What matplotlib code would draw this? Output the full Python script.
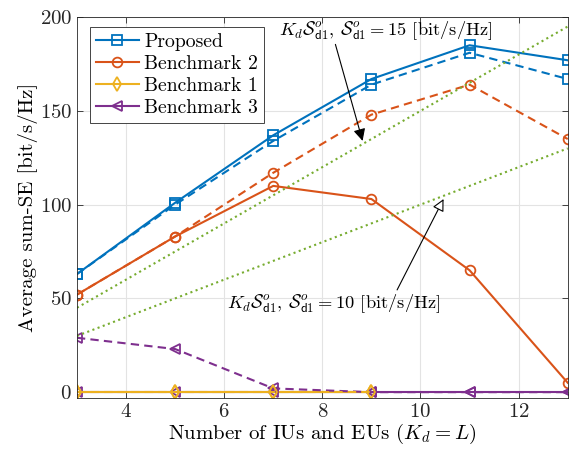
import numpy as np
import matplotlib
matplotlib.use('Agg')
import matplotlib.pyplot as plt

plt.rcParams['font.family'] = 'serif'
plt.rcParams['font.serif'] = ['cmr10']
plt.rcParams['mathtext.fontset'] = 'cm'
plt.rcParams['axes.formatter.use_mathtext'] = True

# Data
k = [3, 5, 7, 9, 11, 13]
prop_solid = [63, 101, 137, 167, 185, 177]
prop_dash = [63, 100, 134, 164, 181, 167]
b2_solid = [52, 83, 110, 103, 65, 5]
b2_dash = [52, 83, 117, 148, 164, 135]
k_b1 = [3, 5, 7, 9]
b1_solid = [0, 0, 0, 0]
b1_dash = [0, 0, 0, 0]
b3_solid = [0, 0, 0, 0, 0, 0]
b3_dash = [29, 23, 2, 0, 0, 0]
k_ref = [3, 13]
ref15 = [45, 195]
ref10 = [30, 130]

c_blue = '#0072BD'
c_orange = '#D95319'
c_yellow = '#EDB120'
c_purple = '#7E2F8E'
c_green = '#77AC30'

fig = plt.figure(figsize=(5.7, 4.51), dpi=100)
ax = fig.add_axes([0.135, 0.118, 0.861, 0.844])

lw = 1.5
dash = (0, (4, 2.5))
mk = dict(markerfacecolor='none', markersize=7, markeredgewidth=1.3)

h_p, = ax.plot(k, prop_solid, '-', color=c_blue, marker='s', lw=lw, **mk)
h_b2, = ax.plot(k, b2_solid, '-', color=c_orange, marker='o', lw=lw, **mk)
h_b3, = ax.plot(k, b3_solid, '-', color=c_purple, marker='<', lw=lw, **mk)
h_b1, = ax.plot(k_b1, b1_solid, '-', color=c_yellow, marker='d', lw=lw, **mk)

ax.plot(k, prop_dash, linestyle=dash, color=c_blue, marker='s', lw=lw, **mk)
ax.plot(k, b2_dash, linestyle=dash, color=c_orange, marker='o', lw=lw, **mk)
ax.plot(k, b3_dash, linestyle=dash, color=c_purple, marker='<', lw=lw, **mk)
ax.plot(k_b1, b1_dash, linestyle=dash, color=c_yellow, marker='d', lw=lw, **mk)

ax.plot(k_ref, ref15, ':', color=c_green, lw=lw)
ax.plot(k_ref, ref10, ':', color=c_green, lw=lw)

ax.set_xlim(3, 13)
ax.set_ylim(-3, 200)
ax.set_xticks([4, 6, 8, 10, 12])
ax.set_yticks([0, 50, 100, 150, 200])
ax.grid(True, color='#e3e3e3', lw=0.8)
ax.set_axisbelow(True)
ax.tick_params(direction='in', top=True, right=True, labelsize=15,
               length=4, width=0.6, colors='#262626')
for s in ax.spines.values():
    s.set_linewidth(0.6)
    s.set_color('#262626')

ax.set_xlabel('Number of IUs and EUs ($K_d = L$)', fontsize=15, labelpad=1)
ax.set_ylabel('Average sum-SE [bit/s/Hz]', fontsize=15, labelpad=1)

ax.annotate(r'$K_d\mathcal{S}^o_{\mathsf{d1}}$, $\mathcal{S}^o_{\mathsf{d1}} = 15$ [bit/s/Hz]',
            xy=(8.82, 134), xytext=(7.12, 193), fontsize=13.3, va='center', ha='left',
            arrowprops=dict(arrowstyle='-|>', color='black', lw=0.8,
                            mutation_scale=18, shrinkA=0, shrinkB=0,
                            relpos=(0.26, 0.0)))
ax.annotate(r'$K_d\mathcal{S}^o_{\mathsf{d1}}$, $\mathcal{S}^o_{\mathsf{d1}} = 10$ [bit/s/Hz]',
            xy=(10.47, 103), xytext=(6.06, 47), fontsize=13.3, va='center', ha='left',
            arrowprops=dict(arrowstyle='-|>', color='black', fc='white', lw=0.8,
                            mutation_scale=18, shrinkA=0, shrinkB=0,
                            relpos=(0.79, 1.0)))

leg = ax.legend([h_p, h_b2, h_b1, h_b3],
                ['Proposed', 'Benchmark 2', 'Benchmark 1', 'Benchmark 3'],
                loc='upper left', bbox_to_anchor=(0.026, 0.975), fontsize=14.2,
                fancybox=False, framealpha=1, edgecolor='#262626',
                labelspacing=0.22, handlelength=2.2, handletextpad=0.25,
                borderpad=0.3, borderaxespad=0)
leg.get_frame().set_linewidth(0.6)

fig.savefig('out.png', dpi=100)
